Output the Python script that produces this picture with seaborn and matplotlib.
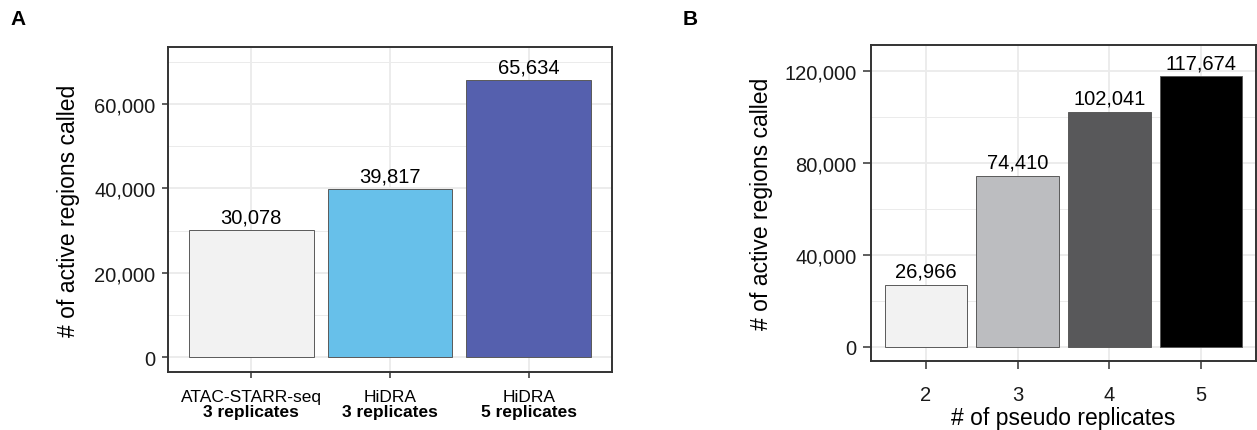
import matplotlib.pyplot as plt
import matplotlib.ticker as mticker
import numpy as np
import pandas as pd
import seaborn as sns

# panel A
methods = ["ATAC-STARR-seq", "HiDRA", "HiDRA"]
method_reps = ["3 replicates", "3 replicates", "5 replicates"]
regions_a = [30078, 39817, 65634]
colors_a = ["#F2F2F2", "#67C0EA", "#5560AE"]

# panel B
pseudo_reps = ["2", "3", "4", "5"]
regions_b = [26966, 74410, 102041, 117674]
colors_b = ["#F2F2F2", "#BCBDC0", "#58585A", "#000000"]

sns.set_style("white")
plt.rcParams["font.family"] = ["Liberation Sans", "DejaVu Sans"]
plt.rcParams["text.color"] = "black"
plt.rcParams["axes.labelcolor"] = "black"

GRID = "#EBEBEB"
FRAME = "#333333"


def style_axes(ax, major, tick_len, ypad, xpad):
    ax.yaxis.set_major_locator(mticker.MultipleLocator(major))
    ax.yaxis.set_minor_locator(mticker.AutoMinorLocator(2))
    ax.yaxis.set_major_formatter(mticker.StrMethodFormatter("{x:,.0f}"))
    ax.grid(which="major", color=GRID, lw=1.3)
    ax.grid(which="minor", axis="y", color=GRID, lw=0.7)
    ax.set_axisbelow(True)
    for s in ax.spines.values():
        s.set_visible(True)
        s.set_color(FRAME)
        s.set_linewidth(1.4)
    ax.tick_params(axis="both", which="major", length=tick_len, width=1.1,
                   color=FRAME, labelsize=14.5, labelcolor="#1A1A1A",
                   direction="out", left=True, bottom=True)
    ax.tick_params(axis="y", pad=ypad)
    ax.tick_params(axis="x", pad=xpad)
    ax.tick_params(which="minor", length=0)


fig = plt.figure(figsize=(12.57, 4.31), dpi=100)
ax1 = fig.add_axes([0.1337, 0.1346, 0.3532, 0.754])
ax2 = fig.add_axes([0.6929, 0.1601, 0.3065, 0.7332])

# ---- A
df_a = pd.DataFrame({"method": [f"{m}\n{r}" for m, r in zip(methods, method_reps)],
                     "regions": regions_a})
sns.barplot(data=df_a, x="method", y="regions", hue="method", palette=colors_a,
            saturation=1, legend=False, width=0.9, edgecolor="#5A5A5A",
            linewidth=0.7, ax=ax1)
for c in ax1.containers:
    ax1.bar_label(c, fmt="{:,.0f}", padding=3, fontsize=14.5, color="black")
ax1.set_xlim(-0.6, 2.6)
ax1.set_ylim(-3500, 73500)
style_axes(ax1, 20000, 4, 5, 4)
ax1.set_xticklabels([""] * len(methods))
ax1.set_xlabel("")
ax1.set_ylabel("# of active regions called", fontsize=16.5, labelpad=10)
for x, m, r in zip(ax1.get_xticks(), methods, method_reps):
    ax1.annotate(m, xy=(x, 0), xycoords=("data", "axes fraction"),
                 xytext=(0, -17), textcoords="offset pixels",
                 ha="center", va="top", fontsize=12.5, color="black")
    ax1.annotate(r, xy=(x, 0), xycoords=("data", "axes fraction"),
                 xytext=(0, -32), textcoords="offset pixels",
                 ha="center", va="top", fontsize=12.5, fontweight="bold",
                 color="black")

# ---- B
df_b = pd.DataFrame({"reps": pseudo_reps, "regions": regions_b})
sns.barplot(data=df_b, x="reps", y="regions", hue="reps", palette=colors_b,
            saturation=1, legend=False, width=0.9, edgecolor="#5A5A5A",
            linewidth=0.7, ax=ax2)
for c in ax2.containers:
    ax2.bar_label(c, fmt="{:,.0f}", padding=3, fontsize=14.5, color="black")
ax2.set_xlim(-0.6, 3.6)
ax2.set_ylim(-6250, 131250)
style_axes(ax2, 40000, 5.5, 5, 12)
ax2.set_xlabel("# of pseudo replicates", fontsize=16.5, labelpad=1)
ax2.set_ylabel("# of active regions called", fontsize=16.5, labelpad=8)

fig.text(0.008, 0.955, "A", fontsize=15, fontweight="bold", va="center",
         color="black")
fig.text(0.543, 0.955, "B", fontsize=15, fontweight="bold", va="center",
         color="black")

fig.savefig("out.png", dpi=100)
